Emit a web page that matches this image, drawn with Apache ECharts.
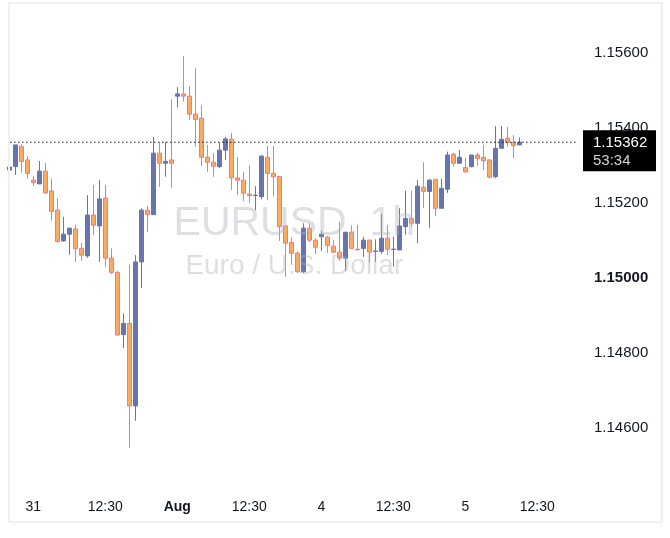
<!DOCTYPE html>
<html><head><meta charset="utf-8">
<script src="https://cdn.jsdelivr.net/npm/echarts@6/dist/echarts.min.js"></script>
<style>html,body{margin:0;padding:0;background:#fff}#c{width:670px;height:538px}</style>
</head><body><div id="c"></div>
<script>
// hourly candles, first (partially hidden) candle has index -1
const firstIndex = -1;
const opens = [1.15288,1.15297,1.15351,1.15315,1.15261,1.15251,1.15285,1.15232,1.15181,1.15099,
1.15117,1.15131,1.15079,1.15059,1.15168,1.15139,1.15213,1.15053,1.15015,1.14849,
1.14879,1.14659,1.15043,1.15181,1.15169,1.15333,1.15306,1.15315,1.15485,1.15491,
1.15485,1.15437,1.15426,1.15322,1.15309,1.15297,1.15341,1.15370,1.15267,1.15261,
1.15224,1.15220,1.15217,1.15322,1.15279,1.15271,1.15139,1.15095,1.15066,1.15017,
1.15133,1.15101,1.15110,1.15109,1.15085,1.15069,1.15053,1.15122,1.15077,1.15079,
1.15101,1.15071,1.15071,1.15106,1.15076,1.15075,1.15137,1.15159,1.15146,1.15242,
1.15231,1.15263,1.15186,1.15237,1.15330,1.15306,1.15295,1.15297,1.15328,1.15322,
1.15315,1.15270,1.15346,1.15373,1.15362,1.15355];
const closes = [1.15296,1.15355,1.15311,1.15279,1.15255,1.15285,1.15227,1.15177,1.15097,1.15117,
1.15133,1.15078,1.15061,1.15168,1.15141,1.15211,1.15053,1.15015,1.14848,1.14879,
1.14659,1.15043,1.15181,1.15169,1.15333,1.15306,1.15311,1.15306,1.15491,1.15485,
1.15437,1.15423,1.15322,1.15309,1.15298,1.15341,1.15371,1.15267,1.15261,1.15226,
1.15220,1.15221,1.15325,1.15279,1.15270,1.15137,1.15093,1.15066,1.15017,1.15133,
1.15101,1.15082,1.15117,1.15087,1.15069,1.15053,1.15122,1.15079,1.15075,1.15101,
1.15069,1.15072,1.15106,1.15077,1.15077,1.15139,1.15159,1.15146,1.15245,1.15231,
1.15261,1.15186,1.15239,1.15328,1.15306,1.15322,1.15283,1.15328,1.15319,1.15313,
1.15269,1.15346,1.15370,1.15362,1.15353,1.15362];
const lows = [1.15285,1.15275,1.15281,1.15265,1.15246,1.15250,1.15225,1.15153,1.15095,1.15097,
1.15062,1.15043,1.15046,1.15054,1.15115,1.15043,1.15030,1.15010,1.14846,1.14813,
1.14547,1.14619,1.14973,1.15123,1.15168,1.15243,1.15270,1.15241,1.15455,1.15470,
1.15421,1.15350,1.15299,1.15283,1.15270,1.15293,1.15315,1.15235,1.15221,1.15205,
1.15200,1.15181,1.15210,1.15208,1.15217,1.15099,1.15003,1.15035,1.15013,1.15013,
1.15096,1.15064,1.15072,1.15067,1.15066,1.15046,1.15019,1.15079,1.15074,1.15056,
1.15040,1.15043,1.15064,1.15061,1.15030,1.15074,1.15115,1.15137,1.15093,1.15187,
1.15134,1.15165,1.15185,1.15227,1.15297,1.15305,1.15282,1.15295,1.15299,1.15288,
1.15266,1.15266,1.15346,1.15350,1.15319,1.15354];
const highs = [1.15300,1.15355,1.15357,1.15326,1.15272,1.15312,1.15307,1.15265,1.15213,1.15163,
1.15134,1.15142,1.15094,1.15221,1.15248,1.15261,1.15248,1.15079,1.15019,1.14906,
1.15035,1.15061,1.15186,1.15192,1.15376,1.15361,1.15363,1.15477,1.15509,1.15592,
1.15512,1.15560,1.15461,1.15355,1.15333,1.15361,1.15376,1.15387,1.15323,1.15283,
1.15301,1.15245,1.15328,1.15352,1.15352,1.15272,1.15141,1.15109,1.15070,1.15146,
1.15146,1.15106,1.15126,1.15112,1.15101,1.15150,1.15123,1.15141,1.15141,1.15110,
1.15102,1.15103,1.15171,1.15141,1.15110,1.15186,1.15233,1.15233,1.15261,1.15309,
1.15264,1.15264,1.15264,1.15337,1.15334,1.15341,1.15321,1.15328,1.15333,1.15355,
1.15316,1.15405,1.15405,1.15403,1.15381,1.15375];
const xTickIndex = [3,15,27,39,51,63,75,87];
const xTickLabels = ['31','12:30','Aug','12:30','4','12:30','5','12:30'];
const xBoldLabels = ['Aug'];
const yTickValues = [1.146,1.148,1.150,1.152,1.154,1.156];
const yBoldValue = 1.150;
const lastPrice = 1.15362;
const countdown = '53:34';
const symbolTitle = 'EURUSD, 1h';
const symbolDesc = 'Euro / U.S. Dollar';

const FONT = '"Liberation Sans", Arial, sans-serif';
const TXT = '#131722';
const UP = '#6675ae', DOWN = '#fbaa5f', DOWN_BORDER = '#f0788a';
const X_MIN = -0.883, X_MAX = 93.783;

const candles = opens.map((o, i) => [firstIndex + i, o, closes[i], lows[i], highs[i]]);

const chart = echarts.init(document.getElementById('c'), null, {renderer: 'canvas'});
const option = {
  animation: false,
  backgroundColor: '#ffffff',
  grid: {left: 10, right: 92, top: 10, bottom: 48, containLabel: false},
  xAxis: {
    type: 'value', min: X_MIN, max: X_MAX,
    axisLine: {show: false}, axisTick: {show: false}, splitLine: {show: false},
    axisLabel: {
      customValues: xTickIndex, margin: 10,
      fontFamily: FONT, fontSize: 14, color: TXT,
      formatter: v => {
        const i = xTickIndex.indexOf(Math.round(v));
        if (i < 0) return '';
        const t = xTickLabels[i];
        return xBoldLabels.indexOf(t) >= 0 ? '{b|' + t + '}' : t;
      },
      rich: {b: {fontFamily: FONT, fontSize: 14, fontWeight: 'bold', color: TXT}}
    }
  },
  yAxis: {
    type: 'value', position: 'right', min: 1.144347, max: 1.157147, scale: true,
    axisLine: {show: false}, axisTick: {show: false}, splitLine: {show: false},
    axisLabel: {
      customValues: yTickValues, margin: 16,
      fontFamily: FONT, fontSize: 15, color: TXT,
      formatter: v => Math.abs(v - yBoldValue) < 1e-9 ? '{b|' + v.toFixed(5) + '}' : v.toFixed(5),
      rich: {b: {fontFamily: FONT, fontSize: 15, fontWeight: 'bold', color: TXT}}
    }
  },
  series: [{
    type: 'candlestick',
    data: candles,
    encode: {x: 0, y: [1, 2, 3, 4]},
    barWidth: 4,
    clip: true,
    itemStyle: {color: UP, color0: DOWN, borderColor: UP, borderColor0: DOWN_BORDER, borderWidth: 1}
  }, {
    type: 'line',
    data: [[X_MIN, lastPrice], [X_MAX, lastPrice]],
    symbol: 'none', silent: true, z: 3,
    lineStyle: {color: TXT, type: [1.5, 2.5], width: 1.2}
  }]
};
chart.setOption(option);

const py = chart.convertToPixel({yAxisIndex: 0}, lastPrice);
const cx = chart.convertToPixel({xAxisIndex: 0}, 46.5);
chart.setOption({
  graphic: [
    {type: 'text', z: 50, style: {x: cx, y: py + 81, text: symbolTitle, font: '41px ' + FONT, fill: 'rgba(175,178,188,0.42)', align: 'center', verticalAlign: 'middle'}},
    {type: 'text', z: 50, style: {x: cx, y: py + 124, text: symbolDesc, font: '28px ' + FONT, fill: 'rgba(175,178,188,0.42)', align: 'center', verticalAlign: 'middle'}},
    {type: 'rect', z: 60, shape: {x: 583, y: py - 12, width: 73, height: 41}, style: {fill: '#000000'}},
    {type: 'text', z: 61, style: {x: 593, y: py + 1, text: lastPrice.toFixed(5), font: '15px ' + FONT, fill: '#ffffff', verticalAlign: 'middle'}},
    {type: 'text', z: 61, style: {x: 593, y: py + 19, text: countdown, font: '15px ' + FONT, fill: '#d4d4d4', verticalAlign: 'middle'}},
    {type: 'rect', z: 70, shape: {x: 9, y: 3, width: 653, height: 519}, style: {fill: 'none', stroke: '#f0f0f0', lineWidth: 2}}
  ]
});
</script></body></html>
